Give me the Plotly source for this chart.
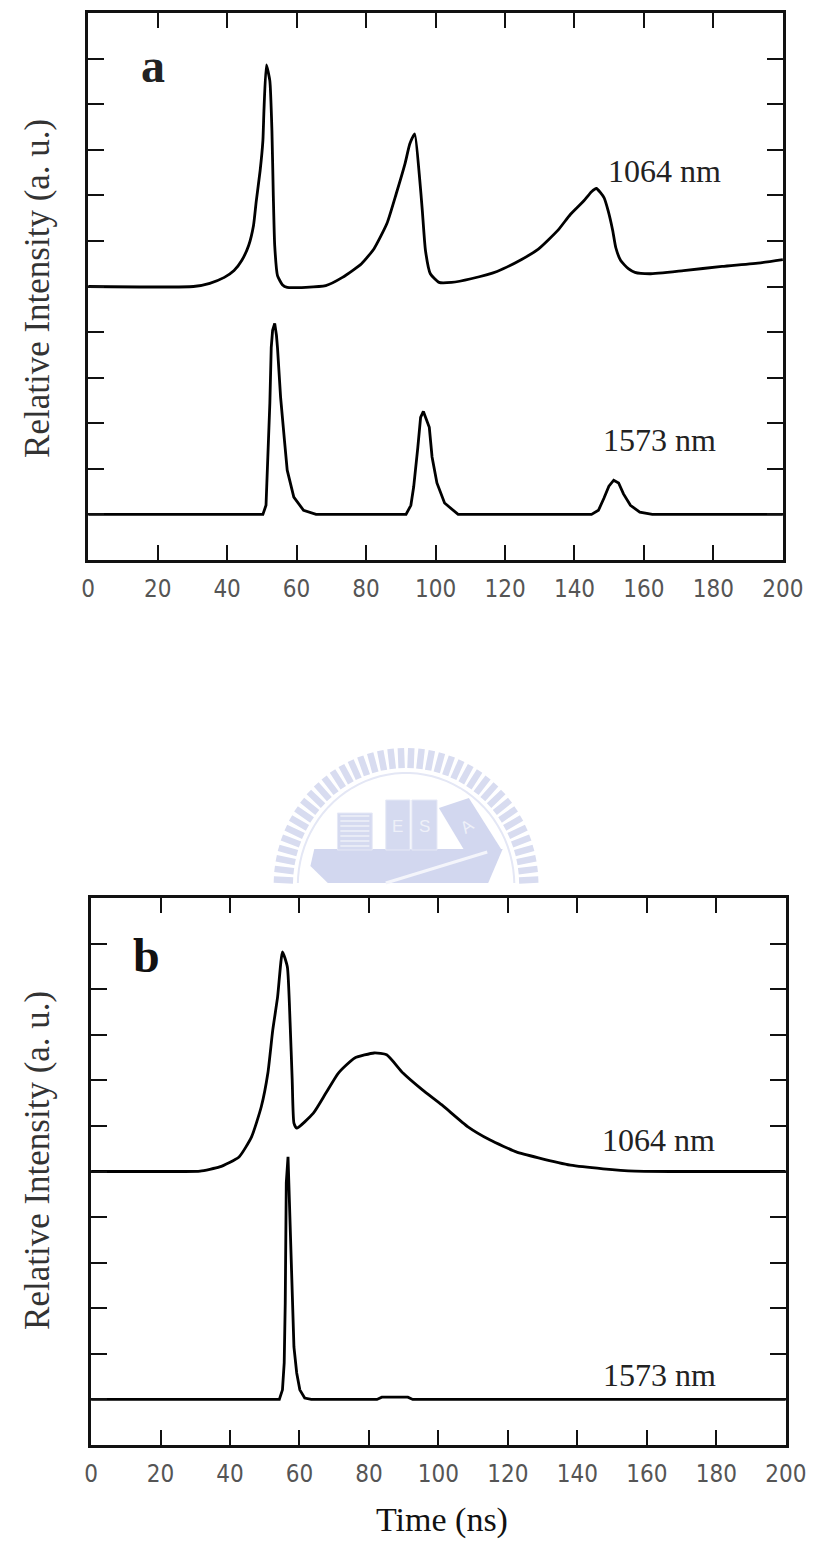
import math
import plotly.graph_objects as go

W, H = 830, 1551

# ---- data: time (ns) and relative intensity (a.u., offset traces) ----
# panel a, 1064 nm (baseline offset 6)
a1064_t = [0, 30.3, 35.0, 39.2, 42.0, 44.2, 46.2, 47.6, 48.4, 49.5, 50.3, 50.6, 51.3,
           52.3, 52.9, 53.3, 53.7, 54.5, 55.9, 57.3, 68.4, 73.2, 78.7, 82.3, 86.0, 88.7,
           91.2, 92.6, 94.0, 95.4, 96.2, 97.1, 98.5, 101.0, 104.6, 110.2, 117.7, 124.9,
           129.6, 135.2, 138.8, 142.7, 144.9, 146.3, 148.5, 149.7, 151.0, 151.9, 153.3,
           155.5, 157.4, 161.6, 171.4, 182.5, 193.6, 200]
a1064_v = [6.0, 6.0, 6.07, 6.20, 6.35, 6.57, 6.90, 7.34, 7.88, 8.54, 9.20, 9.85, 10.86,
           10.51, 9.42, 7.99, 6.90, 6.24, 6.04, 5.98, 6.02, 6.20, 6.50, 6.83, 7.38, 8.04,
           8.69, 9.13, 9.35, 8.39, 7.66, 6.79, 6.28, 6.09, 6.09, 6.17, 6.33, 6.60,
           6.82, 7.23, 7.58, 7.88, 8.08, 8.15, 7.95, 7.66, 7.23, 6.85, 6.57,
           6.39, 6.31, 6.28, 6.35, 6.44, 6.52, 6.59]

# panel a, 1573 nm (baseline offset 1)
a1573_t = [0, 50.3, 51.2, 51.7, 52.3, 52.7, 53.1, 53.7, 54.2, 54.5, 55.4, 56.5, 57.3,
           59.2, 62.0, 65.6, 91.5, 92.9, 93.7, 94.9, 95.7, 96.5, 97.4, 98.2, 99.0,
           100.4, 102.6, 106.5, 144.9, 146.9, 148.5, 149.9, 151.3, 152.7, 154.1,
           156.1, 158.8, 162.4, 200]
a1573_v = [1.0, 1.0, 1.20, 2.12, 3.44, 4.66, 5.04, 5.19, 4.93, 4.66, 3.57, 2.63, 1.97,
           1.38, 1.09, 1.0, 1.0, 1.20, 1.60, 2.47, 3.13, 3.26, 3.07, 2.91, 2.26,
           1.69, 1.25, 1.0, 1.0, 1.09, 1.36, 1.62, 1.75, 1.69, 1.45,
           1.20, 1.05, 1.0, 1.0]

# panel b, 1064 nm (baseline offset 6)
b1064_t = [0, 26.7, 31.4, 37.0, 42.6, 46.2, 49.0, 50.9, 52.3, 53.7, 55.1, 56.5, 57.3,
           57.9, 58.4, 59.2, 64.0, 67.6, 71.2, 75.9, 81.5, 85.1, 89.8, 95.4, 101.0,
           108.5, 114.9, 122.4, 128.8, 138.0, 147.4, 156.6, 170.5, 200]
b1064_v = [6.0, 6.0, 6.01, 6.10, 6.32, 6.76, 7.42, 8.16, 9.10, 9.83, 10.82, 10.49, 9.26,
           8.01, 7.06, 6.95, 7.28, 7.72, 8.16, 8.49, 8.60, 8.56, 8.16, 7.79, 7.46,
           6.98, 6.69, 6.43, 6.30, 6.14, 6.06, 6.01, 6.0, 6.0]

# panel b, 1573 nm (baseline offset 1)
b1573_t = [0, 54.2, 55.1, 55.6, 55.9, 56.2, 56.7, 57.3, 57.9, 58.4, 59.2, 60.1, 61.5,
           63.4, 82.3, 83.7, 91.2, 92.6, 200]
b1573_v = [1.0, 1.0, 1.21, 1.80, 3.12, 5.75, 6.32, 4.87, 3.33, 2.15, 1.58, 1.21, 1.03,
           1.0, 1.0, 1.05, 1.05, 1.0, 1.0]

x_ticks = [0, 20, 40, 60, 80, 100, 120, 140, 160, 180, 200]
y_ticks = list(range(1, 12))

panel_letters = ["a", "b"]
wavelength_labels = ["1064 nm", "1573 nm"]
y_title = "Relative Intensity (a. u.)"
x_title = "Time (ns)"


def px(x):
    return x / W


def py(y):
    return 1 - y / H


fig = go.Figure()

smooth_line = dict(color="#000000", width=2.8, shape="spline", smoothing=0.5)
sharp_line = dict(color="#000000", width=2.8)
fig.add_trace(go.Scatter(x=a1064_t, y=a1064_v, mode="lines", line=smooth_line,
                         xaxis="x", yaxis="y", showlegend=False))
fig.add_trace(go.Scatter(x=a1573_t, y=a1573_v, mode="lines", line=sharp_line,
                         xaxis="x", yaxis="y", showlegend=False))
fig.add_trace(go.Scatter(x=b1064_t, y=b1064_v, mode="lines", line=smooth_line,
                         xaxis="x2", yaxis="y2", showlegend=False))
fig.add_trace(go.Scatter(x=b1573_t, y=b1573_v, mode="lines", line=sharp_line,
                         xaxis="x2", yaxis="y2", showlegend=False))

tick_font = dict(family="Liberation Sans Narrow, DejaVu Sans Condensed, Arial Narrow, sans-serif",
                 size=24, color="#555555")


def xaxis_cfg(domain, anchor):
    return dict(domain=domain, anchor=anchor, range=[0, 200], tickvals=x_ticks,
                ticks="inside", ticklen=15, tickwidth=2.2, tickcolor="#111111",
                showline=True, linewidth=2.6, linecolor="#111111", mirror="ticks",
                showgrid=False, zeroline=False, tickfont=tick_font,
                ticklabelstandoff=5, fixedrange=True)


def yaxis_cfg(domain, anchor):
    return dict(domain=domain, anchor=anchor, range=[0, 12], tickvals=y_ticks,
                ticks="inside", ticklen=16, tickwidth=2.2, tickcolor="#111111",
                showline=True, linewidth=2.6, linecolor="#111111", mirror="ticks",
                showgrid=False, zeroline=False, showticklabels=False, fixedrange=True)


# faint emblem behind the figures
emblem = "#d8dcf0"
shapes = []
cx, cy = 413, 885
n_teeth = 40
for k in range(n_teeth):
    ang = math.pi * (k + 0.5) / n_teeth
    r0, r1 = 117, 137
    x0, y0 = cx + r0 * math.cos(ang), cy - r0 * math.sin(ang)
    x1, y1 = cx + r1 * math.cos(ang), cy - r1 * math.sin(ang)
    if y1 > 883:
        continue
    shapes.append(dict(type="line", xref="paper", yref="paper",
                       x0=px(x0), y0=py(min(y0, 883)), x1=px(x1), y1=py(y1),
                       line=dict(color=emblem, width=6.5), layer="below"))
ring = []
for k in range(0, 181, 4):
    ang = math.radians(k)
    ring.append((cx + 112 * math.cos(ang), min(cy - 112 * math.sin(ang), 883)))
ring_path = "M " + " L ".join(f"{px(x):.5f},{py(y):.5f}" for x, y in ring)
shapes.append(dict(type="path", xref="paper", yref="paper", path=ring_path,
                   line=dict(color="#e4e7f5", width=2), layer="below"))
hull = [(318, 849), (513, 849), (498, 883), (332, 883), (314, 866)]
shapes.append(dict(type="path", xref="paper", yref="paper",
                   path="M " + " L ".join(f"{px(x):.5f},{py(y):.5f}" for x, y in hull) + " Z",
                   fillcolor="#d2d7ef", line=dict(width=0), layer="below"))
for (x0, y0, x1, y1) in [(342, 813, 378, 850), (392, 800, 417, 850), (419, 800, 445, 850)]:
    shapes.append(dict(type="rect", xref="paper", yref="paper",
                       x0=px(x0), y0=py(y1), x1=px(x1), y1=py(y0),
                       fillcolor="#d5daf0", line=dict(color="#e6e9f6", width=1), layer="below"))
for yy in range(816, 850, 5):
    shapes.append(dict(type="line", xref="paper", yref="paper",
                       x0=px(345), y0=py(yy), x1=px(375), y1=py(yy),
                       line=dict(color="#eef0f8", width=1.5), layer="below"))
tilt = [(447, 808), (478, 798), (512, 850), (478, 858)]
shapes.append(dict(type="path", xref="paper", yref="paper",
                   path="M " + " L ".join(f"{px(x):.5f},{py(y):.5f}" for x, y in tilt) + " Z",
                   fillcolor="#d2d7ef", line=dict(width=0), layer="below"))
shapes.append(dict(type="line", xref="paper", yref="paper",
                   x0=px(392), y0=py(883), x1=px(497), y1=py(852),
                   line=dict(color="#f4f5fb", width=3), layer="below"))

annotations = []
serif = "Liberation Serif, Times New Roman, serif"


def label(text, x, y, size, color="#222222", angle=0, family=serif):
    return dict(text=text, x=px(x), y=py(y), xref="paper", yref="paper",
                xanchor="center", yanchor="middle", showarrow=False, textangle=angle,
                font=dict(family=family, size=size, color=color))


for ch, x, y in [("E", 404, 826), ("S", 432, 826), ("A", 476, 826)]:
    annotations.append(label(ch, x, y, 17, "#eef0f8", -35 if ch == "A" else 0,
                             "Liberation Sans"))

annotations += [
    label("<b>%s</b>" % panel_letters[0], 151, 66, 48, "#222222"),
    label("<b>%s</b>" % panel_letters[1], 144, 956, 48, "#111111"),
    label(wavelength_labels[0], 680, 171, 32),
    label(wavelength_labels[1], 675, 440, 32),
    label(wavelength_labels[0], 674, 1140, 32),
    label(wavelength_labels[1], 675, 1375, 32),
    label(y_title, 31, 288, 35, "#333333", -90),
    label(y_title, 31, 1160, 35, "#333333", -90),
    label(x_title, 450, 1520, 34, "#111111"),
]

fig.update_layout(
    width=W, height=H,
    margin=dict(l=0, r=0, t=0, b=0),
    paper_bgcolor="white", plot_bgcolor="rgba(0,0,0,0)",
    xaxis=xaxis_cfg([px(84), px(803)], "y"),
    yaxis=yaxis_cfg([py(560), py(13)], "x"),
    xaxis2=xaxis_cfg([px(87), px(806)], "y2"),
    yaxis2=yaxis_cfg([py(1445), py(898)], "x2"),
    shapes=shapes,
    annotations=annotations,
)

fig.write_html("out.html")
